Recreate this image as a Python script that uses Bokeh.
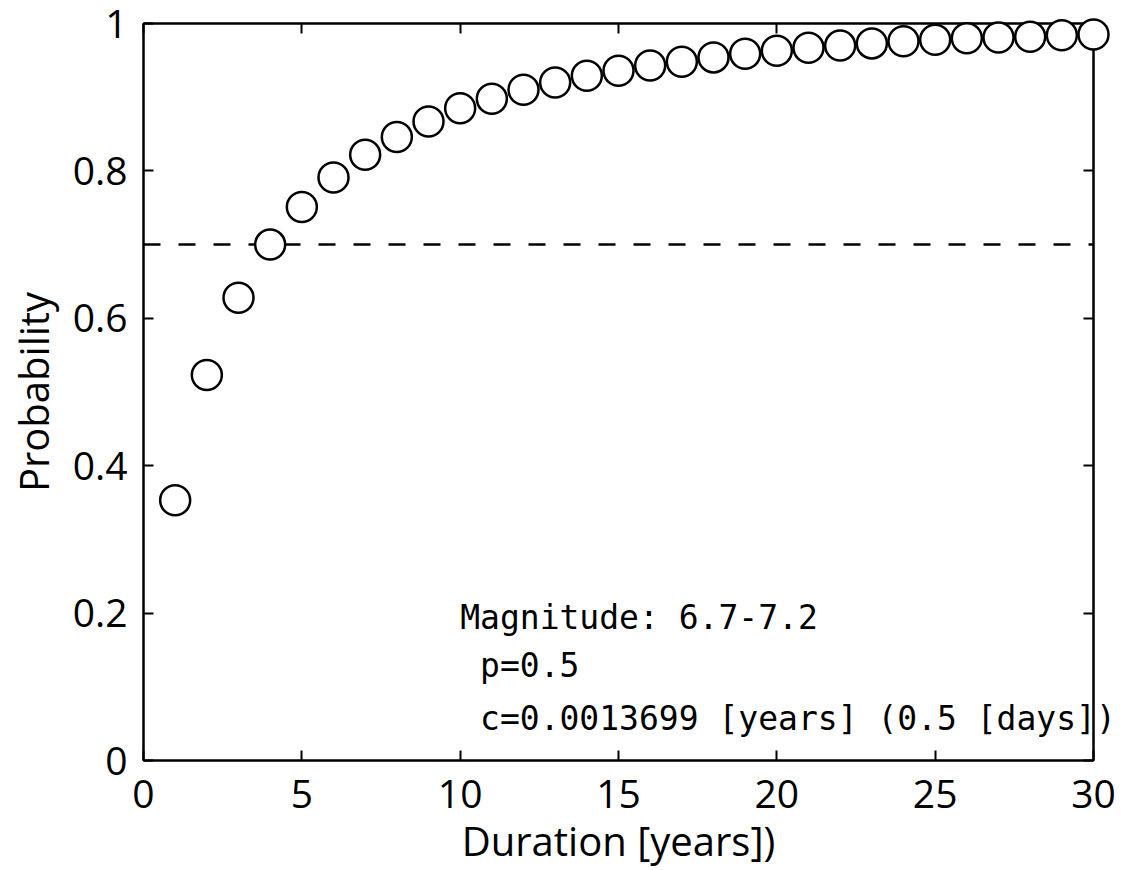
from bokeh.plotting import figure
from bokeh.models import LinearAxis, FixedTicker, Span, Range1d, ColumnDataSource
from bokeh.core.properties import value
from bokeh.embed import file_html
from bokeh.resources import INLINE

duration = list(range(1, 31))
probability = [0.353, 0.523, 0.628, 0.700, 0.751, 0.791, 0.822, 0.846, 0.867, 0.885,
               0.898, 0.910, 0.920, 0.929, 0.936, 0.943, 0.948, 0.954, 0.959, 0.963,
               0.967, 0.970, 0.973, 0.976, 0.978, 0.980, 0.981, 0.982, 0.984, 0.985]
threshold = 0.7
x_ticks = [0, 5, 10, 15, 20, 25, 30]
y_ticks = [0, 0.2, 0.4, 0.6, 0.8, 1]
annotation_lines = ["Magnitude: 6.7-7.2", "p=0.5", "c=0.0013699 [years] (0.5 [days])"]
annotation_indent = [0, 1, 1]
annotation_y = [0.194, 0.129, 0.057]
annotation_x = 10.0

p = figure(width=1132, height=870, output_backend="svg", toolbar_location=None,
           x_range=Range1d(0, 30), y_range=Range1d(0, 1),
           min_border_left=143, min_border_right=39, min_border_top=23, min_border_bottom=110)
p.background_fill_color = "white"
p.border_fill_color = "white"
p.grid.visible = False
p.outline_line_color = "black"
p.outline_line_width = 2

tick_font = "Open Sans"

def style_axis(ax, ticks, show_labels=True):
    ax.ticker = FixedTicker(ticks=ticks)
    ax.axis_line_color = "black"
    ax.axis_line_width = 2
    ax.major_tick_in = 10
    ax.major_tick_out = 0
    ax.major_tick_line_width = 2
    ax.minor_tick_line_color = None
    ax.major_label_text_font = tick_font
    ax.major_label_text_color = "black"
    if show_labels:
        ax.major_label_text_font_size = "39px"
    else:
        ax.major_label_text_font_size = "1px"
        ax.major_label_overrides = {t: "" for t in ticks}
        ax.major_label_standoff = 0

style_axis(p.xaxis[0], x_ticks)
style_axis(p.yaxis[0], y_ticks)
p.yaxis[0].major_label_overrides = {0: "0", 1: "1"}
p.xaxis[0].major_label_standoff = 19
p.yaxis[0].major_label_standoff = 16
p.xaxis[0].axis_label = "Duration [years])"
p.yaxis[0].axis_label = "Probability"
for ax in (p.xaxis[0], p.yaxis[0]):
    ax.axis_label_text_font = tick_font
    ax.axis_label_text_font_style = "normal"
    ax.axis_label_text_color = "black"
    ax.axis_label_text_font_size = "40px"
p.xaxis[0].axis_label_standoff = 2
p.yaxis[0].axis_label_standoff = 9

top = LinearAxis()
style_axis(top, x_ticks, show_labels=False)
p.add_layout(top, "above")
right = LinearAxis()
style_axis(right, y_ticks, show_labels=False)
p.add_layout(right, "right")

p.add_layout(Span(location=threshold, dimension="width", line_color="black",
                  line_width=2.5, line_dash="17 18"))

src = ColumnDataSource(dict(x=duration, y=probability))
p.scatter("x", "y", source=src, size=30, marker="circle", fill_color="white",
          line_color="black", line_width=2.5, level="overlay")

char_w = 33 * 0.602
txt_src = ColumnDataSource(dict(
    x=[annotation_x] * len(annotation_lines),
    y=annotation_y,
    text=annotation_lines,
    dx=[i * char_w for i in annotation_indent],
))
p.text(x="x", y="y", text="text", x_offset="dx", source=txt_src,
       text_font=value("DejaVu Sans Mono"), text_font_size="33px", text_color="black",
       text_baseline="alphabetic", text_align="left", level="overlay")

open("out.html", "w").write(file_html(p, INLINE))
